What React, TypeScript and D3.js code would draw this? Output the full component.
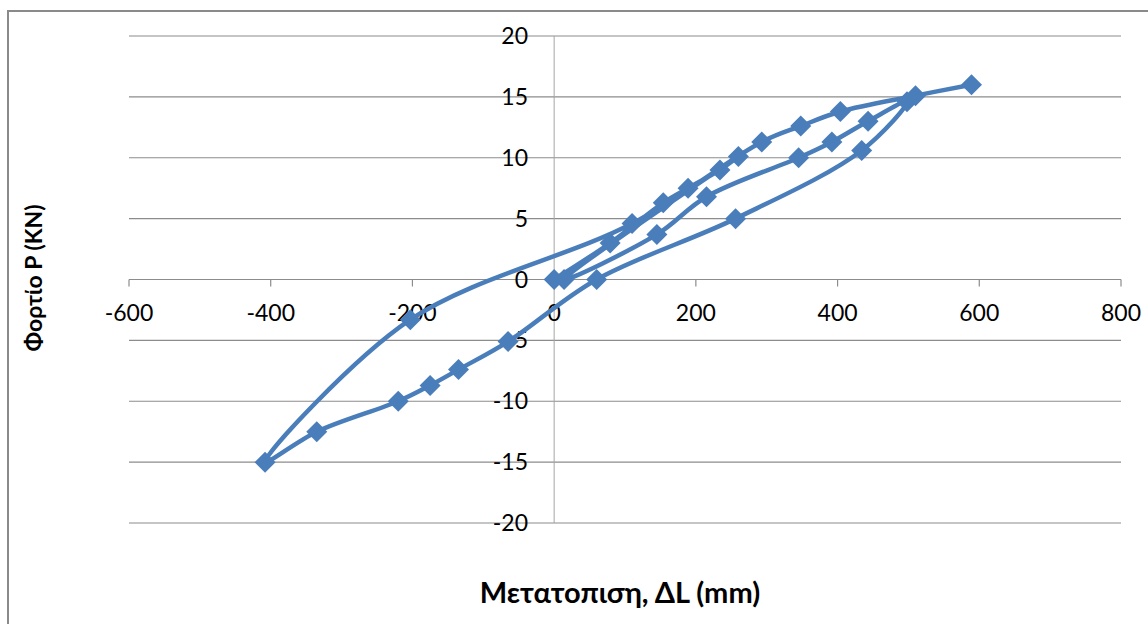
import React from 'react';
import * as d3 from 'd3';

// Tick values
const xTicks = [-600, -400, -200, 0, 200, 400, 600, 800];
const yTicks = [-20, -15, -10, -5, 0, 5, 10, 15, 20];

// Series (in drawing order)
const displacement = [
  0, 79, 154, 189, 234, 260,
  14, 145, 215, 345, 392, 443, 498,
  434, 256, 60, -65, -135, -175, -220, -335, -408,
  -203, 110, 293, 348, 404, 510, 589,
];
const load = [
  0, 3.0, 6.3, 7.5, 9.0, 10.1,
  0, 3.7, 6.8, 10.0, 11.3, 13.0, 14.6,
  10.6, 5.0, 0, -5.1, -7.4, -8.7, -10.0, -12.5, -15.0,
  -3.3, 4.6, 11.3, 12.6, 13.8, 15.1, 16.0,
];

const xTitle = 'Μετατοπιση, ΔL (mm)';
const yTitle = 'Φορτίο P (KN)';

const BLUE = '#4A7EBB';
const GRID = '#8C8C8C';
const FONT = 'Lato, "Liberation Sans", Arial, sans-serif';

export default function App() {
  const x = d3.scaleLinear().domain([-600, 800]).range([129, 1121]);
  const y = d3.scaleLinear().domain([-20, 20]).range([523, 36]);
  const pts: [number, number][] = displacement.map((d, i) => [d, load[i]]);
  const line = d3
    .line<[number, number]>()
    .x((d) => x(d[0]))
    .y((d) => y(d[1]))
    .curve(d3.curveCatmullRom.alpha(0.5));
  const r = 10.5;
  const diamond = `M0,${-r}L${r},0L0,${r}L${-r},0Z`;
  const x0 = y(0);
  const yAxisX = x(0);

  return (
    <svg
      width={1148}
      height={624}
      style={{ position: 'absolute', left: 0, top: 0, background: '#fff' }}
    >
      <rect x={0} y={0} width={1148} height={624} fill="#fff" />
      {/* chart frame */}
      <rect x={8} y={11} width={1300} height={800} fill="#fff" stroke="#8a8a8a" strokeWidth={2} />
      {/* horizontal gridlines */}
      {yTicks
        .filter((v) => v !== 0)
        .map((v) => (
          <line key={'g' + v} x1={x(-600)} x2={x(800)} y1={y(v)} y2={y(v)} stroke={GRID} strokeWidth={1.2} />
        ))}
      {/* y axis */}
      <line x1={yAxisX} x2={yAxisX} y1={y(20)} y2={y(-20)} stroke="#a6a6a6" strokeWidth={1} />
      {/* x axis */}
      <line x1={x(-600)} x2={x(800)} y1={x0} y2={x0} stroke={GRID} strokeWidth={1.2} />
      {xTicks.map((v) => (
        <line key={'t' + v} x1={x(v)} x2={x(v)} y1={x0} y2={x0 + 7} stroke={GRID} strokeWidth={1.2} />
      ))}
      {/* tick labels */}
      {xTicks.map((v) => (
        <text key={'xl' + v} x={x(v)} y={x0 + 41} textAnchor="middle" fontFamily={FONT} fontSize={23} fill="#000">
          {v}
        </text>
      ))}
      {yTicks.map((v) => (
        <text key={'yl' + v} x={528} y={y(v) + 8} textAnchor="end" fontFamily={FONT} fontSize={23} fill="#000">
          {v}
        </text>
      ))}
      {/* series */}
      <path d={line(pts) || ''} fill="none" stroke={BLUE} strokeWidth={4.5} strokeLinejoin="round" />
      {pts.map((p, i) => (
        <path key={'m' + i} d={diamond} transform={`translate(${x(p[0])},${y(p[1])})`} fill={BLUE} />
      ))}
      {/* axis titles */}
      <text x={620} y={603} textAnchor="middle" fontFamily={FONT} fontWeight="bold" fontSize={29} fill="#000">
        {xTitle}
      </text>
      <text
        transform={`translate(42,278) rotate(-90)`}
        textAnchor="middle"
        fontFamily={FONT}
        fontWeight="bold"
        fontSize={23}
        fill="#000"
      >
        {yTitle}
      </text>
    </svg>
  );
}
